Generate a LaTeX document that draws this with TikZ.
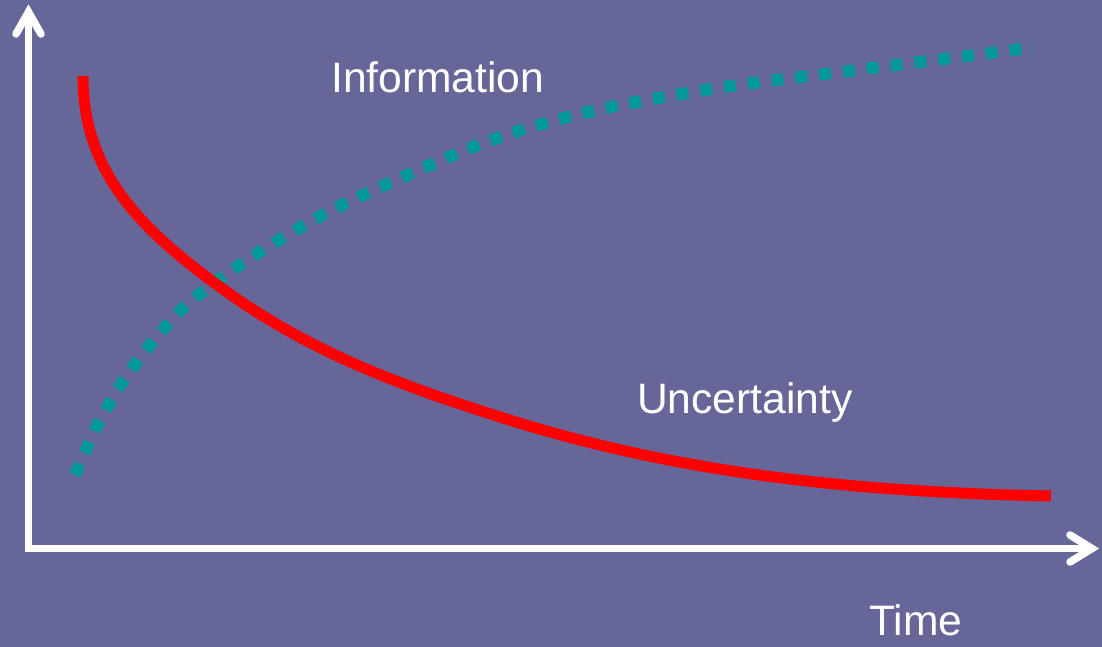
\documentclass[tikz,border=0pt]{standalone}
\usepackage{fontspec}
\setmainfont{Liberation Sans}
\definecolor{bgpurple}{HTML}{676699}
\definecolor{tealdot}{HTML}{009999}
\definecolor{curvered}{HTML}{FF0000}
\tikzset{
  axisline/.style={white, line width=7.5pt, line cap=butt},
  axishead/.style={white, line width=7.5pt, line cap=round, line join=miter},
  redcurve/.style={curvered, line width=11pt, line cap=butt},
  tealcurve/.style={tealdot, line width=12pt, line cap=butt, dash pattern=on 12pt off 12pt},
  lbl/.style={white, anchor=base west, inner sep=0pt, font=\fontsize{42.6}{50}\selectfont},
}
\begin{document}
\begin{tikzpicture}[x=1pt, y=-1pt]
\fill[bgpurple] (0,0) rectangle (1102,647);
\useasboundingbox (0,0) rectangle (1102,647);
% axes
\coordinate (O) at (28.5,548.5);
\coordinate (Ytip) at (28.5,12);
\coordinate (Xtip) at (1092,548.5);
\coordinate (Ystart) at (28.5,552);
\coordinate (Xstart) at (25,548.5);
\draw[axisline] (Ystart) -- (Ytip);
\draw[axisline] (Xstart) -- (Xtip);
\coordinate (ya) at (16,34);
\coordinate (yb) at (41,34);
\coordinate (xa) at (1070,535);
\coordinate (xb) at (1070,562);
\draw[axishead] (ya) -- (Ytip) -- (yb);
\draw[axishead] (xa) -- (Xtip) -- (xb);
% information curve
\draw[tealcurve] plot[smooth, tension=0.5] coordinates {
 (75,475) (97,426) (120,386) (146,350) (181,310) (218,280) (258,253) (299,228)
 (340,206) (385,185) (428,166) (473,147) (518,131) (564,118) (611,107) (658,98)
 (705,90) (753,83) (801,77) (848,71) (896,65) (943,59) (991,53) (1034,47)};
% uncertainty curve
\coordinate (u0) at (83,76);
\coordinate (u1) at (220,287);
\coordinate (u2) at (500,417);
\coordinate (u3) at (1051,496);
\draw[redcurve] (u0) .. controls (83,172) and (140,228.6) .. (u1)
  .. controls (313,354.9) and (407,387.2) .. (u2)
  .. controls (684,475.9) and (867,492.3) .. (u3);
% labels
\node[lbl] (info) at (331,93) {Information};
\node[lbl] (unc) at (637,413) {Uncertainty};
\node[lbl] (time) at (869,635) {Time};
\end{tikzpicture}
\end{document}
